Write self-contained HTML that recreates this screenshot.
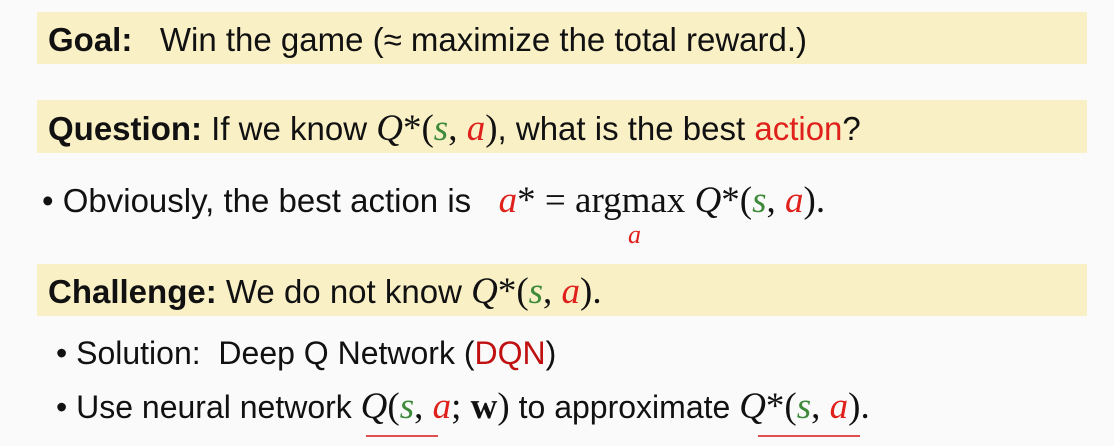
<!DOCTYPE html>
<html><head><meta charset="utf-8"><style>
body{margin:0;width:1114px;height:446px;background:#fafafa;position:relative;overflow:hidden;font-family:"Liberation Sans",sans-serif;color:#111;}
.band{position:absolute;left:37px;width:1050px;background:#f9f0c6;}
.t{position:absolute;font-size:33px;white-space:nowrap;line-height:1;}
.m{font-family:"Liberation Serif",serif;font-style:italic;font-size:37px;line-height:1;}
.r{color:#e0201a}.g{color:#3d8a3a}.dr{color:#c01010}
.mu{font-family:"Liberation Serif",serif;font-size:37px;line-height:1;}
b{font-weight:bold}
.ul{position:absolute;height:2px;background:#e05050;}
</style></head><body>
<div class="band" style="top:12px;height:52px"></div>
<div class="band" style="top:100px;height:53px"></div>
<div class="band" style="top:264px;height:52px"></div>

<div class="t" style="left:48px;top:23px"><b>Goal:</b>&nbsp;&nbsp; Win the game (≈ maximize the total reward.)</div>
<div class="t" style="left:48px;top:110px"><b>Question:</b> If we know <span class="m">Q</span><span class="mu">*(</span><span class="m g">s</span><span class="mu">, </span><span class="m r">a</span><span class="mu">)</span>, what is the best <span class="r">action</span>?</div>
<div class="t" style="left:42px;top:182px">• Obviously, the best action is &nbsp;&nbsp;<span class="m r">a</span><span class="mu">* = argmax </span><span class="m">Q</span><span class="mu">*(</span><span class="m g">s</span><span class="mu">, </span><span class="m r">a</span><span class="mu">).</span></div>
<div class="t m r" style="left:628px;top:222px;font-size:26px">a</div>
<div class="t" style="left:48px;top:273px"><b>Challenge:</b> We do not know <span class="m">Q</span><span class="mu">*(</span><span class="m g">s</span><span class="mu">, </span><span class="m r">a</span><span class="mu">).</span></div>
<div class="t" style="left:56px;top:337px;font-size:32px">• Solution:&nbsp; Deep Q Network (<span class="dr">DQN</span>)</div>
<div class="t" style="left:56px;top:388px;font-size:32px">• Use neural network <span class="m">Q</span><span class="mu">(</span><span class="m g">s</span><span class="mu">, </span><span class="m r">a</span><span class="mu">; <b>w</b>)</span> to approximate <span class="m">Q</span><span class="mu">*(</span><span class="m g">s</span><span class="mu">, </span><span class="m r">a</span><span class="mu">).</span></div>
<div class="ul" style="left:366px;top:435px;width:72px"></div>
<div class="ul" style="left:758px;top:435px;width:102px"></div>
</body></html>
